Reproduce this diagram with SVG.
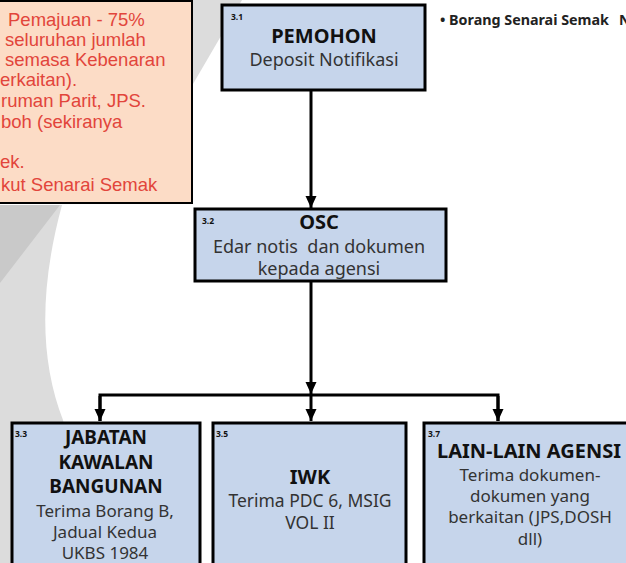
<svg xmlns="http://www.w3.org/2000/svg" width="626" height="563" viewBox="0 0 626 563">
<defs>
<marker id="arr" markerUnits="userSpaceOnUse" markerWidth="14" markerHeight="14" refX="12" refY="6" orient="auto">
<path d="M0,0.5 L12,6 L0,11.5 Z" fill="#000"/>
</marker>
<style>
.bg{fill:#dcdcdc}
.bg2{fill:#c9c9c9}
.box{fill:#c6d5eb;stroke:#000;stroke-width:3}
.note{fill:#fcdcc6;stroke:#000;stroke-width:2}
.num{font-family:"Noto Sans",sans-serif;font-size:8.5px;font-weight:bold;fill:#111}
.ttl{font-family:"Noto Sans",sans-serif;font-weight:bold;fill:#111;text-anchor:middle}
.txt{font-family:"Noto Sans",sans-serif;fill:#333;text-anchor:middle}
.red{font-family:"Liberation Sans",Arial,sans-serif;font-size:18.5px;fill:#e2453b}
.con{stroke:#000;stroke-width:3;fill:none}
</style>
</defs>
<rect width="626" height="563" fill="#fff"/>
<g id="background">
<path class="bg" d="M150,0 L242,0 L193,84 L150,110 Z"/>
<path class="bg" d="M0,205 L62,205 Q28,330 63,420 L90,563 L0,563 Z"/>
<path class="bg2" d="M0,205 L60,205 L0,283 Z"/>
</g>
<g id="note">
<rect x="-3" y="1" width="195" height="202" class="note"/>
<text class="red" x="8" y="26">Pemajuan - 75%</text>
<text class="red" x="5" y="46">seluruhan jumlah</text>
<text class="red" x="5" y="66">semasa Kebenaran</text>
<text class="red" x="0" y="86">erkaitan).</text>
<text class="red" x="1" y="107">ruman Parit, JPS.</text>
<text class="red" x="1" y="128">boh (sekiranya</text>
<text class="red" x="0" y="168">ek.</text>
<text class="red" x="1" y="191">kut Senarai Semak</text>
</g>
<g id="checklist">
<text x="440" y="25" font-family="Noto Sans, sans-serif" font-size="14.3" font-weight="bold" fill="#222">• Borang Senarai Semak</text>
<text x="619" y="25" font-family="Noto Sans, sans-serif" font-size="14.3" font-weight="bold" fill="#222">N</text>
</g>
<g id="connectors">
<line class="con" x1="311" y1="91" x2="311" y2="208" marker-end="url(#arr)"/>
<line class="con" x1="311" y1="281" x2="311" y2="394" marker-end="url(#arr)"/>
<polyline class="con" points="100,421 100,395 498,395 498,421"/>
<line class="con" x1="100" y1="396" x2="100" y2="421" marker-end="url(#arr)"/>
<line class="con" x1="311" y1="396" x2="311" y2="421" marker-end="url(#arr)"/>
<line class="con" x1="498" y1="396" x2="498" y2="421" marker-end="url(#arr)"/>
</g>
<g id="pemohon">
<rect x="222" y="5" width="203" height="85" class="box"/>
<text class="num" x="231" y="20">3.1</text>
<text class="ttl" x="324" y="43" font-size="20">PEMOHON</text>
<text class="txt" x="324" y="66" font-size="18">Deposit Notifikasi</text>
</g>
<g id="osc">
<rect x="195" y="209" width="251" height="72" class="box"/>
<text class="num" x="202" y="224">3.2</text>
<text class="ttl" x="319" y="229" font-size="20">OSC</text>
<text class="txt" x="319" y="253" font-size="18" xml:space="preserve">Edar notis  dan dokumen</text>
<text class="txt" x="319" y="275" font-size="18">kepada agensi</text>
</g>
<g id="jkb">
<rect x="12" y="423" width="188" height="145" class="box"/>
<text class="num" x="15" y="437">3.3</text>
<text class="ttl" x="106" y="444" font-size="19">JABATAN</text>
<text class="ttl" x="106" y="469" font-size="19">KAWALAN</text>
<text class="ttl" x="106" y="493" font-size="19">BANGUNAN</text>
<text class="txt" x="105" y="517" font-size="17">Terima Borang B,</text>
<text class="txt" x="105" y="538" font-size="17">Jadual Kedua</text>
<text class="txt" x="105" y="559" font-size="17">UKBS 1984</text>
</g>
<g id="iwk">
<rect x="213" y="423" width="193" height="145" class="box"/>
<text class="num" x="216" y="437">3.5</text>
<text class="ttl" x="310" y="484" font-size="20">IWK</text>
<text class="txt" x="310" y="507" font-size="17.5">Terima PDC 6, MSIG</text>
<text class="txt" x="310" y="529" font-size="17.5">VOL II</text>
</g>
<g id="lain">
<rect x="424" y="423" width="210" height="145" class="box"/>
<text class="num" x="428" y="437">3.7</text>
<text class="ttl" x="529" y="458" font-size="20">LAIN-LAIN AGENSI</text>
<text class="txt" x="530" y="481" font-size="17">Terima dokumen-</text>
<text class="txt" x="530" y="502" font-size="17">dokumen yang</text>
<text class="txt" x="530" y="523" font-size="17">berkaitan (JPS,DOSH</text>
<text class="txt" x="530" y="545" font-size="17">dll)</text>
</g>
</svg>
